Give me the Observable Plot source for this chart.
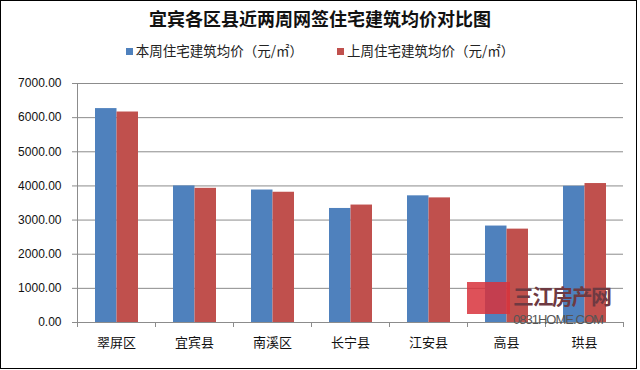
<!DOCTYPE html>
<html><head><meta charset="utf-8">
<script src="https://cdn.jsdelivr.net/npm/d3@7"></script>
<script src="https://cdn.jsdelivr.net/npm/@observablehq/plot@0.6"></script>
<style>
body{margin:0;background:#fff;}
#wrap{position:relative;width:640px;height:370px;overflow:hidden;font-family:"Noto Sans CJK SC",sans-serif;}
#frame{position:absolute;left:0;top:0;width:637px;height:369px;border:1px solid #000;box-sizing:border-box;}
#title{position:absolute;left:0;width:640px;top:6px;text-align:center;font-size:18px;font-weight:bold;color:#111;line-height:24px;}
#legend{position:absolute;left:0;width:640px;top:41px;text-align:center;font-size:13.5px;color:#222;line-height:18px;}
#legend span.item{margin:0 17px;}
#legend i{display:inline-block;width:7px;height:7px;margin-right:3px;vertical-align:1px;}
#chart{position:absolute;left:0;top:70px;}
#wm{position:absolute;left:467px;top:282px;}
#wm .box{position:absolute;left:0;top:0;width:43px;height:32px;background:#d8323c;opacity:0.85;}
#wm .t1{position:absolute;left:46px;top:0px;font-size:21px;font-weight:bold;color:#6e3a42;white-space:nowrap;letter-spacing:-1.5px;line-height:26px;}
#wm .t2{position:absolute;left:46px;top:31px;font-size:13px;color:#555;white-space:nowrap;font-family:"Liberation Sans Narrow","Liberation Sans",sans-serif;letter-spacing:-1px;line-height:14px;}
</style></head>
<body>
<div id="wrap">
  <div id="frame"></div>
  <div id="title">宜宾各区县近两周网签住宅建筑均价对比图</div>
  <div id="legend"></div>
  <div id="chart"></div>
  <div id="wm"><div class="box"></div><div class="t1">三江房产网</div><div class="t2">0831HOME.COM</div></div>
</div>
<script>
const categories = ["翠屏区","宜宾县","南溪区","长宁县","江安县","高县","珙县"];
const seriesNames = ["本周住宅建筑均价（元/㎡）","上周住宅建筑均价（元/㎡）"];
const seriesColors = ["#4F81BD","#C0504D"];
const thisWeek = [6265, 4000, 3880, 3340, 3710, 2825, 3990];
const lastWeek = [6165, 3930, 3815, 3440, 3650, 2735, 4070];
const yTicks = [0,1000,2000,3000,4000,5000,6000,7000];

const legend = document.getElementById("legend");
seriesNames.forEach((n,i)=>{
  const s=document.createElement("span"); s.className="item";
  s.innerHTML=`<i style="background:${seriesColors[i]}"></i>${n}`;
  legend.appendChild(s);
});

const width=640, height=300, mL=77, mR=17, mT=13, mB=48;
const half = (width-mL-mR)/categories.length/2;
const rowsA = categories.map((c,i)=>({cat:c, v:thisWeek[i]}));
const rowsB = categories.map((c,i)=>({cat:c, v:lastWeek[i]}));

const plot = Plot.plot({
  width, height, marginLeft:mL, marginRight:mR, marginTop:mT, marginBottom:mB,
  style:{fontFamily:"'Liberation Sans',sans-serif", fontSize:"12px", color:"#111", background:"transparent"},
  x:{domain:categories, padding:0, label:null},
  y:{domain:[0,7000], label:null},
  marks:[
    Plot.gridY(yTicks,{stroke:"#8c8c8c", strokeOpacity:1, strokeWidth:1}),
    Plot.barY(rowsA,{x:"cat", y:"v", fill:seriesColors[0], insetLeft:18, insetRight:38.5}),
    Plot.barY(rowsB,{x:"cat", y:"v", fill:seriesColors[1], insetLeft:39.5, insetRight:17}),
    Plot.ruleY([0],{stroke:"#8c8c8c"}),
    Plot.frame({anchor:"left", stroke:"#8c8c8c"}),
    Plot.ruleX(categories,{x:d=>d, y1:0, y2:0, insetBottom:-5, dx:-half, stroke:"#8c8c8c"}),
    Plot.ruleX([categories[categories.length-1]],{x:d=>d, y1:0, y2:0, insetBottom:-5, dx:half, stroke:"#8c8c8c"}),
    Plot.axisY(yTicks,{tickSize:5, tickPadding:11, stroke:"#8c8c8c", tickFormat:d=>d.toFixed(2), fontSize:12, fill:"#111"}),
    Plot.axisX({tickSize:0, tickPadding:15, fontSize:13, fill:"#111", fontFamily:"'Noto Sans CJK SC',sans-serif"})
  ]
});
document.getElementById("chart").appendChild(plot);
</script>
</body></html>
